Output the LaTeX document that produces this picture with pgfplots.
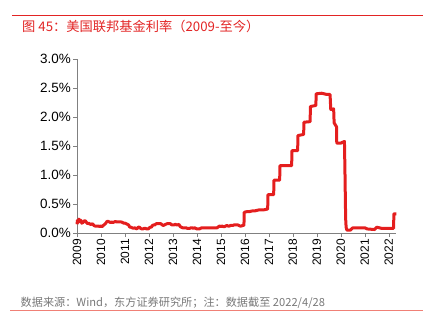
\documentclass[border=0pt]{standalone}
\usepackage{pgfplots}
\pgfplotsset{compat=1.18}
\usepackage{fontspec}
\setmainfont{Liberation Sans}
\newfontfamily\cjk{Noto Sans CJK SC}
\definecolor{tred}{RGB}{226,36,36}
\definecolor{lred}{RGB}{228,30,30}
\definecolor{fline}{RGB}{240,128,118}
\definecolor{fgray}{RGB}{120,120,120}
\definecolor{agray}{RGB}{128,128,128}
\begin{document}
\begin{tikzpicture}[x=1bp,y=1bp]
\useasboundingbox (0,0) rectangle (433,321);
\draw[tred,line width=0.8bp] (12,306) -- (423,306);
\node[anchor=base west,inner sep=0,text=tred,font=\cjk\fontsize{13.3}{15}\selectfont] at (22,289.5) {图 45：美国联邦基金利率（2009-至今）};
\draw[fline,line width=0.8bp] (10,10.5) -- (423,10.5);
\node[anchor=base west,inner sep=0,text=fgray,font=\cjk\fontsize{11.2}{13}\selectfont] at (20.5,14.5) {数据来源：Wind，东方证券研究所；注：数据截至 2022/4/28};
\begin{axis}[
  at={(77bp,88bp)}, anchor=south west,
  scale only axis, width=319bp, height=174bp,
  xmin=2009, xmax=2022.3, ymin=0, ymax=3,
  axis x line*=bottom, axis y line*=left,
  axis line style={agray,line width=0.6bp},
  tick style={agray,line width=0.6bp},
  tick align=outside, major tick length=4bp,
  xtick={2009,2010,2011,2012,2013,2014,2015,2016,2017,2018,2019,2020,2021,2022},
  xticklabels={2009,2010,2011,2012,2013,2014,2015,2016,2017,2018,2019,2020,2021,2022},
  ytick={0,0.5,1,1.5,2,2.5,3},
  yticklabels={0.0\%,0.5\%,1.0\%,1.5\%,2.0\%,2.5\%,3.0\%},
  /pgf/number format/assume math mode=true,
  xticklabel style={rotate=90,anchor=east,font=\fontsize{12}{14}\selectfont,inner sep=2bp},
  yticklabel style={font=\fontsize{13.5}{15}\selectfont,inner sep=2bp},
  clip=false,
]
\addplot[lred,line width=3bp,line join=round] coordinates {
(2009.00,0.15)(2009.02,0.22)(2009.05,0.18)(2009.08,0.24)(2009.12,0.20)(2009.16,0.22)(2009.20,0.17)(2009.25,0.18)(2009.30,0.21)(2009.35,0.21)(2009.40,0.18)(2009.45,0.16)(2009.50,0.17)(2009.55,0.15)(2009.60,0.15)(2009.65,0.16)(2009.70,0.13)(2009.75,0.12)(2009.80,0.12)(2009.85,0.12)(2009.90,0.12)(2009.95,0.11)
(2010.00,0.12)(2010.05,0.11)(2010.10,0.13)(2010.15,0.15)(2010.20,0.17)(2010.25,0.20)(2010.30,0.20)(2010.35,0.19)(2010.40,0.18)(2010.45,0.19)(2010.50,0.18)(2010.55,0.19)(2010.60,0.20)(2010.65,0.19)(2010.70,0.19)(2010.75,0.19)(2010.80,0.19)(2010.85,0.19)(2010.90,0.18)(2010.95,0.17)
(2011.00,0.17)(2011.05,0.16)(2011.10,0.15)(2011.15,0.14)(2011.20,0.10)(2011.25,0.10)(2011.30,0.09)(2011.35,0.08)(2011.40,0.09)(2011.45,0.08)(2011.50,0.07)(2011.55,0.10)(2011.60,0.10)(2011.65,0.08)(2011.70,0.07)(2011.75,0.07)(2011.80,0.08)(2011.85,0.08)(2011.90,0.07)(2011.95,0.07)
(2012.00,0.08)(2012.05,0.10)(2012.10,0.10)(2012.15,0.13)(2012.20,0.14)(2012.25,0.14)(2012.30,0.16)(2012.35,0.16)(2012.40,0.16)(2012.45,0.16)(2012.50,0.16)(2012.55,0.14)(2012.60,0.13)(2012.65,0.14)(2012.70,0.15)(2012.75,0.16)(2012.80,0.16)(2012.85,0.16)(2012.90,0.16)(2012.95,0.14)
(2013.00,0.14)(2013.05,0.14)(2013.10,0.15)(2013.15,0.14)(2013.20,0.14)(2013.25,0.15)(2013.30,0.11)(2013.35,0.10)(2013.40,0.09)(2013.45,0.09)(2013.50,0.09)(2013.55,0.09)(2013.60,0.08)(2013.65,0.08)(2013.70,0.08)(2013.75,0.09)(2013.80,0.09)(2013.85,0.08)(2013.90,0.09)(2013.95,0.08)
(2014.00,0.07)(2014.05,0.07)(2014.10,0.07)(2014.15,0.08)(2014.20,0.09)(2014.25,0.09)(2014.30,0.09)(2014.35,0.09)(2014.40,0.09)(2014.45,0.09)(2014.50,0.09)(2014.55,0.09)(2014.60,0.09)(2014.65,0.09)(2014.70,0.09)(2014.75,0.09)(2014.80,0.09)(2014.85,0.09)(2014.90,0.11)(2014.95,0.12)
(2015.00,0.11)(2015.05,0.12)(2015.10,0.11)(2015.15,0.11)(2015.20,0.12)(2015.25,0.13)(2015.30,0.12)(2015.35,0.12)(2015.40,0.13)(2015.45,0.13)(2015.50,0.13)(2015.55,0.14)(2015.60,0.14)(2015.65,0.14)(2015.70,0.14)(2015.75,0.13)(2015.80,0.12)(2015.85,0.12)(2015.90,0.13)(2015.96,0.13)
(2015.97,0.36)(2016.00,0.36)(2016.10,0.37)(2016.20,0.37)(2016.30,0.38)(2016.40,0.38)(2016.50,0.39)(2016.60,0.40)(2016.70,0.40)(2016.80,0.40)(2016.90,0.41)(2016.95,0.41)
(2016.96,0.66)(2017.10,0.66)(2017.20,0.66)(2017.21,0.91)(2017.45,0.91)(2017.46,1.16)(2017.60,1.16)(2017.80,1.16)(2017.95,1.16)
(2017.96,1.42)(2018.20,1.42)(2018.21,1.68)(2018.45,1.70)(2018.46,1.91)(2018.72,1.92)(2018.73,2.18)(2018.96,2.20)
(2018.97,2.40)(2019.20,2.41)(2019.40,2.39)(2019.55,2.39)(2019.58,2.13)(2019.70,2.14)(2019.72,1.90)(2019.82,1.83)(2019.83,1.55)
(2020.00,1.55)(2020.15,1.58)(2020.17,1.10)(2020.20,0.25)(2020.22,0.10)(2020.25,0.05)(2020.40,0.05)(2020.50,0.09)(2020.70,0.09)(2020.90,0.09)
(2021.00,0.09)(2021.10,0.07)(2021.40,0.06)(2021.50,0.10)(2021.70,0.08)(2022.00,0.08)(2022.20,0.08)(2022.21,0.33)(2022.32,0.33)
};
\end{axis}
\end{tikzpicture}
\end{document}
